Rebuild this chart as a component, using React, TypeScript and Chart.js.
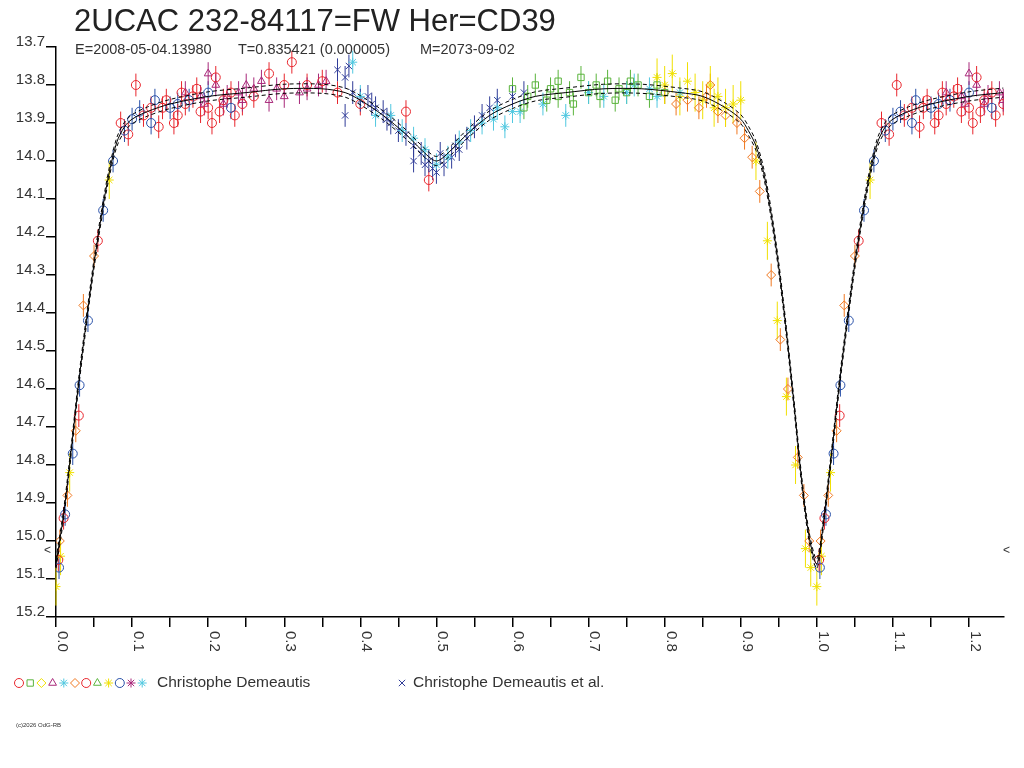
import React, { useEffect, useRef } from "react";
import { Chart, registerables, PointElement } from "chart.js";
Chart.register(...registerables);

const titleText = "2UCAC 232-84117=FW Her=CD39";
const subtitleParts = ["E=2008-05-04.13980", "T=0.835421 (0.000005)", "M=2073-09-02"];
const subtitleX = [75, 238, 420];
const legendMain = "Christophe Demeautis";
const legendEtAl = "Christophe Demeautis et al.";
const copyright = "(c)2026 OdG-RB";
const xTickLabels = ["0.0", "0.1", "0.2", "0.3", "0.4", "0.5", "0.6", "0.7", "0.8", "0.9", "1.0", "1.1", "1.2"];

const modelPhase = [0, 0.01, 0.02, 0.03, 0.04, 0.05, 0.06, 0.07, 0.08, 0.09, 0.1, 0.12, 0.15, 0.2, 0.25, 0.3, 0.35, 0.38, 0.4, 0.43, 0.46, 0.48, 0.5, 0.52, 0.54, 0.57, 0.6, 0.63, 0.67, 0.72, 0.77, 0.82, 0.85, 0.88, 0.9, 0.91, 0.92, 0.93, 0.94, 0.95, 0.96, 0.97, 0.98, 0.99, 1.0, 1.01, 1.02, 1.03, 1.04, 1.05, 1.06, 1.07, 1.08, 1.09, 1.1, 1.12, 1.15, 1.2, 1.245];
const modelMag = [15.06, 14.93, 14.76, 14.58, 14.42, 14.27, 14.14, 14.03, 13.95, 13.91, 13.89, 13.87, 13.85, 13.83, 13.82, 13.81, 13.81, 13.82, 13.84, 13.88, 13.93, 13.97, 14.0, 13.97, 13.93, 13.88, 13.85, 13.83, 13.82, 13.81, 13.81, 13.82, 13.83, 13.86, 13.89, 13.92, 13.96, 14.03, 14.14, 14.28, 14.45, 14.64, 14.84, 14.99, 15.06, 14.93, 14.76, 14.58, 14.42, 14.27, 14.14, 14.03, 13.95, 13.91, 13.89, 13.87, 13.85, 13.83, 13.82];
const modelSpread = 0.012;

const redPts = [[0.085,13.90],[0.095,13.93],[0.105,13.80],[0.115,13.88],[0.125,13.86],[0.135,13.91],[0.145,13.84],[0.16,13.88],[0.17,13.85],[0.18,13.83],[0.19,13.87],[0.2,13.86],[0.205,13.9],[0.21,13.78],[0.22,13.84],[0.23,13.82],[0.245,13.85],[0.26,13.83],[0.28,13.77],[0.3,13.8],[0.31,13.74],[0.33,13.8],[0.35,13.79],[0.37,13.82],[0.4,13.85],[0.46,13.87],[0.49,14.05],[0.03,14.67],[0.01,14.94],[0.003,15.05],[0.055,14.21],[0.155,13.9],[0.235,13.88],[0.185,13.81],[0.14,13.86],[0.165,13.82],[0.215,13.87]];
const magentaPts = [[0.17,13.82],[0.19,13.83],[0.21,13.8],[0.225,13.83],[0.24,13.82],[0.25,13.8],[0.26,13.81],[0.27,13.79],[0.29,13.81],[0.3,13.83],[0.32,13.82],[0.33,13.81],[0.345,13.8],[0.355,13.79],[0.22,13.85],[0.28,13.84],[0.2,13.77],[0.195,13.85],[0.245,13.84]];
const bluePts = [[0.004,15.07],[0.012,14.93],[0.022,14.77],[0.031,14.59],[0.042,14.42],[0.062,14.13],[0.075,14.0],[0.09,13.92],[0.11,13.87],[0.13,13.84],[0.15,13.86],[0.175,13.84],[0.2,13.82],[0.23,13.86],[0.125,13.9],[0.1,13.89],[0.16,13.85]];
const etAlPts = [[0.37,13.76],[0.38,13.78],[0.385,13.75],[0.39,13.82],[0.4,13.84],[0.41,13.83],[0.42,13.86],[0.43,13.87],[0.44,13.9],[0.45,13.92],[0.46,13.93],[0.47,13.96],[0.48,13.98],[0.49,14.0],[0.495,14.02],[0.5,14.03],[0.51,14.01],[0.52,13.99],[0.53,13.97],[0.54,13.94],[0.55,13.91],[0.56,13.88],[0.57,13.86],[0.38,13.88],[0.47,14.0],[0.505,13.98],[0.58,13.84],[0.6,13.83],[0.615,13.82],[0.415,13.85],[0.435,13.89],[0.485,14.01],[0.525,13.96]];
const cyanPts = [[0.39,13.74],[0.4,13.83],[0.42,13.88],[0.44,13.88],[0.455,13.92],[0.47,13.94],[0.485,13.97],[0.5,14.01],[0.515,13.99],[0.53,13.95],[0.545,13.92],[0.56,13.9],[0.575,13.89],[0.59,13.91],[0.61,13.87],[0.64,13.85],[0.67,13.88],[0.72,13.83],[0.75,13.82],[0.78,13.81],[0.82,13.82],[0.58,13.86],[0.6,13.87],[0.7,13.82],[0.76,13.8],[0.79,13.83]];
const greenPts = [[0.6,13.81],[0.62,13.83],[0.63,13.8],[0.645,13.84],[0.66,13.83],[0.675,13.82],[0.69,13.78],[0.7,13.82],[0.71,13.8],[0.725,13.79],[0.74,13.81],[0.75,13.82],[0.765,13.8],[0.78,13.83],[0.79,13.8],[0.66,13.79],[0.68,13.85],[0.615,13.86],[0.735,13.84],[0.8,13.82],[0.65,13.81],[0.715,13.83],[0.755,13.79]];
const yellowPts = [[0.79,13.78],[0.8,13.8],[0.81,13.77],[0.82,13.83],[0.83,13.79],[0.84,13.82],[0.85,13.84],[0.86,13.8],[0.87,13.83],[0.88,13.86],[0.89,13.85],[0.9,13.84],[0.92,14.0],[0.935,14.21],[0.948,14.42],[0.96,14.62],[0.972,14.8],[0.985,15.02],[0.992,15.07],[0.0,15.12],[0.006,15.04],[0.018,14.82],[0.07,14.05],[0.865,13.86]];
const orangePts = [[0.8,13.82],[0.815,13.85],[0.83,13.84],[0.845,13.86],[0.855,13.83],[0.87,13.87],[0.88,13.88],[0.895,13.9],[0.905,13.94],[0.915,13.99],[0.925,14.08],[0.94,14.3],[0.952,14.47],[0.962,14.6],[0.975,14.78],[0.983,14.88],[0.99,15.0],[0.005,15.0],[0.015,14.88],[0.026,14.71],[0.036,14.38],[0.05,14.25],[0.86,13.8]];

const seriesDefs = [
  { pts: bluePts, color: "#2850a8", style: "circle", err: 0.03 },
  { pts: redPts, color: "#e8262d", style: "circle", err: 0.03 },
  { pts: magentaPts, color: "#a8287a", style: "triangle", err: 0.03 },
  { pts: greenPts, color: "#5ab43c", style: "rect", err: 0.03 },
  { pts: cyanPts, color: "#50c8e0", style: "star", err: 0.03 },
  { pts: etAlPts, color: "#303c98", style: "crossRot", err: 0.03 },
  { pts: orangePts, color: "#f07820", style: "rectRot", err: 0.03 },
  { pts: yellowPts, color: "#f0e000", style: "star", err: 0.05 },
];
const legendColors = ["#e8262d", "#5ab43c", "#f0e000", "#a8287a", "#50c8e0", "#f07820", "#e8262d", "#5ab43c", "#f0e000", "#2850a8", "#a8287a", "#50c8e0"];
const legendStyles = ["circle", "rect", "rectRot", "triangle", "star", "rectRot", "circle", "triangle", "star", "circle", "star", "star"];

const XMAX = 1.246;
const FONT = "'Liberation Sans', Arial, sans-serif";

function drawMarker(ctx: CanvasRenderingContext2D, style: string, color: string, x: number, y: number) {
  const el: any = new (PointElement as any)({});
  el.x = x;
  el.y = y;
  el.options = { pointStyle: style, radius: 4.5, borderWidth: 1, borderColor: color, backgroundColor: "rgba(0,0,0,0)", rotation: 0 };
  el.draw(ctx);
}

function App() {
  const ref = useRef<HTMLCanvasElement>(null);
  useEffect(() => {
    const datasets: any[] = [];
    const modelData = modelPhase.map((p, i) => ({ x: p, y: modelMag[i] }));
    datasets.push({ type: "line", data: modelData, borderColor: "#000", borderWidth: 1, pointRadius: 0, tension: 0.3, order: 0 });
    [-modelSpread, modelSpread].forEach((d) =>
      datasets.push({ type: "line", data: modelPhase.map((p, i) => ({ x: p, y: modelMag[i] + d })), borderColor: "#000", borderWidth: 1, borderDash: [4, 3], pointRadius: 0, tension: 0.3, order: 0 })
    );
    seriesDefs.forEach((s) => {
      const data: any[] = [];
      s.pts.forEach(([p, m]) => {
        data.push({ x: p, y: m });
        if (p < XMAX - 1) data.push({ x: p + 1, y: m });
      });
      datasets.push({ type: "scatter", data, borderColor: s.color, backgroundColor: "rgba(0,0,0,0)", pointStyle: s.style, pointRadius: 4.5, borderWidth: 1, err: s.err, order: 1 });
    });

    const plug = {
      id: "extras",
      beforeDatasetsDraw(chart: any) {
        const ctx = chart.ctx;
        const ys = chart.scales.y;
        ctx.save();
        chart.data.datasets.forEach((ds: any, i: number) => {
          if (!ds.err) return;
          const meta = chart.getDatasetMeta(i);
          ctx.strokeStyle = ds.borderColor;
          ctx.lineWidth = 1;
          ds.data.forEach((d: any, j: number) => {
            const el = meta.data[j];
            ctx.beginPath();
            ctx.moveTo(el.x, ys.getPixelForValue(d.y - ds.err));
            ctx.lineTo(el.x, ys.getPixelForValue(d.y + ds.err));
            ctx.stroke();
          });
        });
        ctx.restore();
      },
      afterDraw(chart: any) {
        const ctx = chart.ctx;
        const xs = chart.scales.x;
        ctx.save();
        ctx.fillStyle = "#222";
        ctx.textBaseline = "alphabetic";
        ctx.font = `31px ${FONT}`;
        ctx.fillText(titleText, 74, 31);
        ctx.font = `14.5px ${FONT}`;
        ctx.fillStyle = "#333";
        subtitleParts.forEach((t, i) => ctx.fillText(t, subtitleX[i], 54));
        xTickLabels.forEach((t, i) => {
          const px = xs.getPixelForValue(i / 10);
          ctx.save();
          ctx.translate(px + 6, 631);
          ctx.rotate(Math.PI / 2);
          ctx.textAlign = "left";
          ctx.textBaseline = "middle";
          ctx.font = `15px ${FONT}`;
          ctx.fillText(t, 0, 0);
          ctx.restore();
        });
        ctx.font = `12px ${FONT}`;
        ctx.fillText("<", 44, 554);
        ctx.fillText("<", 1003, 554);
        ctx.restore();
        ctx.save();
        let lx = 19;
        legendStyles.forEach((st, i) => {
          drawMarker(ctx, st, legendColors[i], lx, 683);
          lx += 11.2;
        });
        drawMarker(ctx, "crossRot", "#303c98", 402, 683);
        ctx.fillStyle = "#333";
        ctx.font = `15.5px ${FONT}`;
        ctx.textBaseline = "middle";
        ctx.fillText(legendMain, 157, 683);
        ctx.fillText(legendEtAl, 413, 683);
        ctx.font = `6px ${FONT}`;
        ctx.fillText(copyright, 16, 725);
        ctx.restore();
      },
    };

    const chart = new Chart(ref.current!, {
      type: "scatter",
      data: { datasets },
      plugins: [plug],
      options: {
        animation: false,
        responsive: false,
        layout: { padding: { top: 47, right: 20, left: 0, bottom: 0 } },
        plugins: { legend: { display: false }, tooltip: { enabled: false } },
        scales: {
          x: {
            type: "linear", min: 0, max: XMAX,
            afterFit: (s: any) => { s.height = 768 - 47 - 570; },
            ticks: { display: false },
            afterBuildTicks: (s: any) => { s.ticks = []; for (let i = 0; i <= 24; i++) s.ticks.push({ value: i * 0.05 }); },
            grid: { drawOnChartArea: false, drawTicks: true, tickLength: 10, color: "#000", lineWidth: 1.5 },
            border: { color: "#000", width: 1.5 },
          },
          y: {
            type: "linear", min: 13.7, max: 15.2, reverse: true,
            afterFit: (s: any) => { s.width = 56; },
            afterBuildTicks: (s: any) => { s.ticks = []; for (let i = 0; i <= 15; i++) s.ticks.push({ value: 13.7 + i * 0.1 }); },
            ticks: { color: "#333", font: { family: FONT, size: 15 }, padding: 1, labelOffset: -5, callback: (v: any) => Number(v).toFixed(1) },
            grid: { drawOnChartArea: false, tickLength: 10, color: "#000", lineWidth: 1.5 },
            border: { color: "#000", width: 1.5 },
          },
        },
      } as any,
    });
    return () => chart.destroy();
  }, []);
  return (
    <div style={{ position: "absolute", left: 0, top: 0, width: 1024, height: 768, background: "#fff" }}>
      <canvas ref={ref} width={1024} height={768} style={{ width: 1024, height: 768 }} />
    </div>
  );
}
export default App;
